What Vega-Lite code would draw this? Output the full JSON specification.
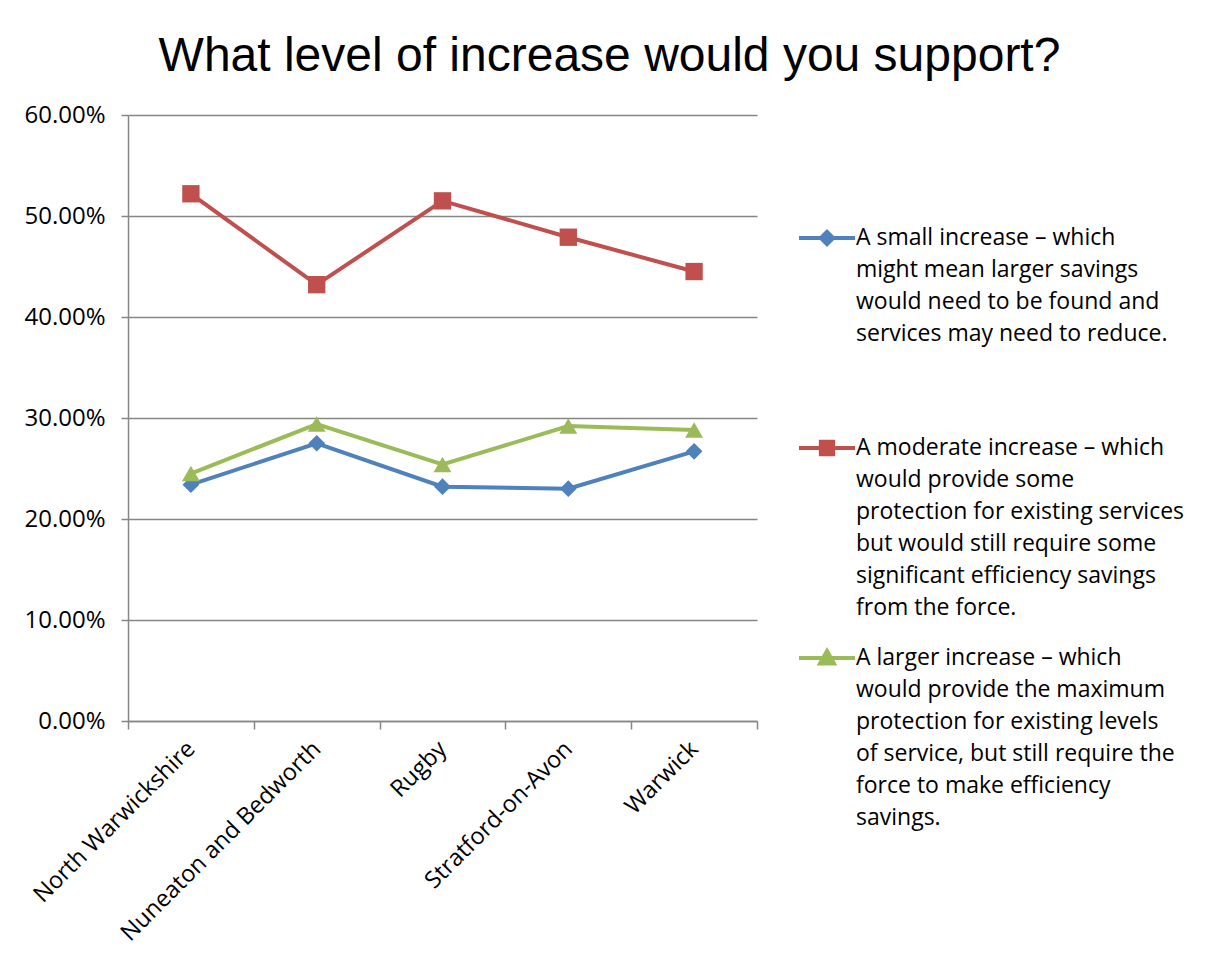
{
  "$schema": "https://vega.github.io/schema/vega-lite/v6.json",
  "autosize": "none",
  "padding": {"left": 128, "top": 115, "right": 449, "bottom": 244},
  "width": 629,
  "height": 606,
  "background": "white",
  "title": {
    "text": "What level of increase would you support?",
    "font": "Liberation Sans",
    "fontSize": 48,
    "fontWeight": "normal",
    "color": "black",
    "anchor": "middle",
    "frame": "bounds",
    "baseline": "alphabetic",
    "offset": -16,
    "dx": 5
  },
  "data": {
    "values": [
      {"district": "North Warwickshire", "series": "small", "value": 0.234},
      {"district": "Nuneaton and Bedworth", "series": "small", "value": 0.275},
      {"district": "Rugby", "series": "small", "value": 0.232},
      {"district": "Stratford-on-Avon", "series": "small", "value": 0.230},
      {"district": "Warwick", "series": "small", "value": 0.267},
      {"district": "North Warwickshire", "series": "moderate", "value": 0.522},
      {"district": "Nuneaton and Bedworth", "series": "moderate", "value": 0.432},
      {"district": "Rugby", "series": "moderate", "value": 0.515},
      {"district": "Stratford-on-Avon", "series": "moderate", "value": 0.479},
      {"district": "Warwick", "series": "moderate", "value": 0.445},
      {"district": "North Warwickshire", "series": "larger", "value": 0.245},
      {"district": "Nuneaton and Bedworth", "series": "larger", "value": 0.294},
      {"district": "Rugby", "series": "larger", "value": 0.254},
      {"district": "Stratford-on-Avon", "series": "larger", "value": 0.292},
      {"district": "Warwick", "series": "larger", "value": 0.288}
    ]
  },
  "encoding": {
    "x": {
      "field": "district",
      "type": "nominal",
      "sort": ["North Warwickshire", "Nuneaton and Bedworth", "Rugby", "Stratford-on-Avon", "Warwick"],
      "scale": {"paddingInner": 0, "paddingOuter": 0},
      "axis": {
        "title": null,
        "tickBand": "extent",
        "labelAngle": -45,
        "labelAlign": "right",
        "labelBaseline": "middle",
        "labelFont": "Open Sans",
        "labelFontSize": 23.5,
        "labelColor": "black",
        "labelLimit": 400,
        "labelPadding": 16,
        "tickSize": 8,
        "tickColor": "#868686",
        "tickWidth": 1.5,
        "domainColor": "#868686",
        "domainWidth": 1.5,
        "grid": false
      }
    },
    "y": {
      "field": "value",
      "type": "quantitative",
      "scale": {"domain": [0, 0.6], "nice": false},
      "axis": {
        "title": null,
        "values": [0, 0.1, 0.2, 0.3, 0.4, 0.5, 0.6],
        "format": ".2%",
        "labelFont": "Open Sans",
        "labelFontSize": 24,
        "labelColor": "black",
        "labelPadding": 16,
        "tickSize": 7,
        "tickColor": "#868686",
        "tickWidth": 1.5,
        "domainColor": "#868686",
        "domainWidth": 1.5,
        "grid": true,
        "gridColor": "#868686",
        "gridWidth": 1.5
      }
    }
  },
  "layer": [
    {
      "mark": {"type": "line", "strokeWidth": 4},
      "encoding": {
        "color": {
          "field": "series",
          "type": "nominal",
          "scale": {
            "domain": ["small", "moderate", "larger"],
            "range": ["#4F81BD", "#C0504D", "#9BBB59"]
          },
          "legend": {
            "title": null,
            "orient": "none",
            "legendX": 669,
            "legendY": 93,
            "padding": 0,
            "rowPadding": 8,
            "symbolSize": 3136,
            "symbolStrokeWidth": 4,
            "labelOffset": -1,
            "labelFont": "Open Sans",
            "labelFontSize": 23,
            "labelColor": "black",
            "labelLimit": 400,
            "labelBaseline": "top",
            "labelExpr": "datum.value == 'small' ? ['A small increase – which', 'might mean larger savings', 'would need to be found and', 'services may need to reduce.', '', ''] : datum.value == 'moderate' ? ['A moderate increase – which', 'would provide some', 'protection for existing services', 'but would still require some', 'significant efficiency savings', 'from the force.'] : ['A larger increase – which', 'would provide the maximum', 'protection for existing levels', 'of service, but still require the', 'force to make efficiency', 'savings.']",
            "encode": {
              "labels": {"update": {"lineHeight": {"value": 32}, "dy": {"value": -11}}},
              "symbols": {
                "update": {
                  "shape": {"signal": "datum.value == 'small' ? 'M-1,0H1M0,-0.22L0.22,0L0,0.22L-0.22,0Z' : datum.value == 'moderate' ? 'M-1,0H1M-0.22,-0.22H0.22V0.22H-0.22Z' : 'M-1,0H1M0,-0.25L0.25,0.2L-0.25,0.2Z'"},
                  "fill": {"signal": "scale('color', datum.value)"},
                  "stroke": {"signal": "scale('color', datum.value)"},
                  "strokeWidth": {"value": 4},
                  "opacity": {"value": 1}
                }
              }
            }
          }
        }
      }
    },
    {
      "transform": [{"filter": "datum.series == 'small'"}],
      "mark": {"type": "point", "filled": true, "opacity": 1, "shape": "diamond", "size": 280},
      "encoding": {"color": {"field": "series", "type": "nominal", "legend": null}}
    },
    {
      "transform": [{"filter": "datum.series == 'moderate'"}],
      "mark": {"type": "point", "filled": true, "opacity": 1, "shape": "square", "size": 300},
      "encoding": {"color": {"field": "series", "type": "nominal", "legend": null}}
    },
    {
      "transform": [{"filter": "datum.series == 'larger'"}],
      "mark": {"type": "point", "filled": true, "opacity": 1, "shape": "triangle-up", "size": 320},
      "encoding": {"color": {"field": "series", "type": "nominal", "legend": null}}
    }
  ],
  "config": {
    "view": {"stroke": null}
  }
}
